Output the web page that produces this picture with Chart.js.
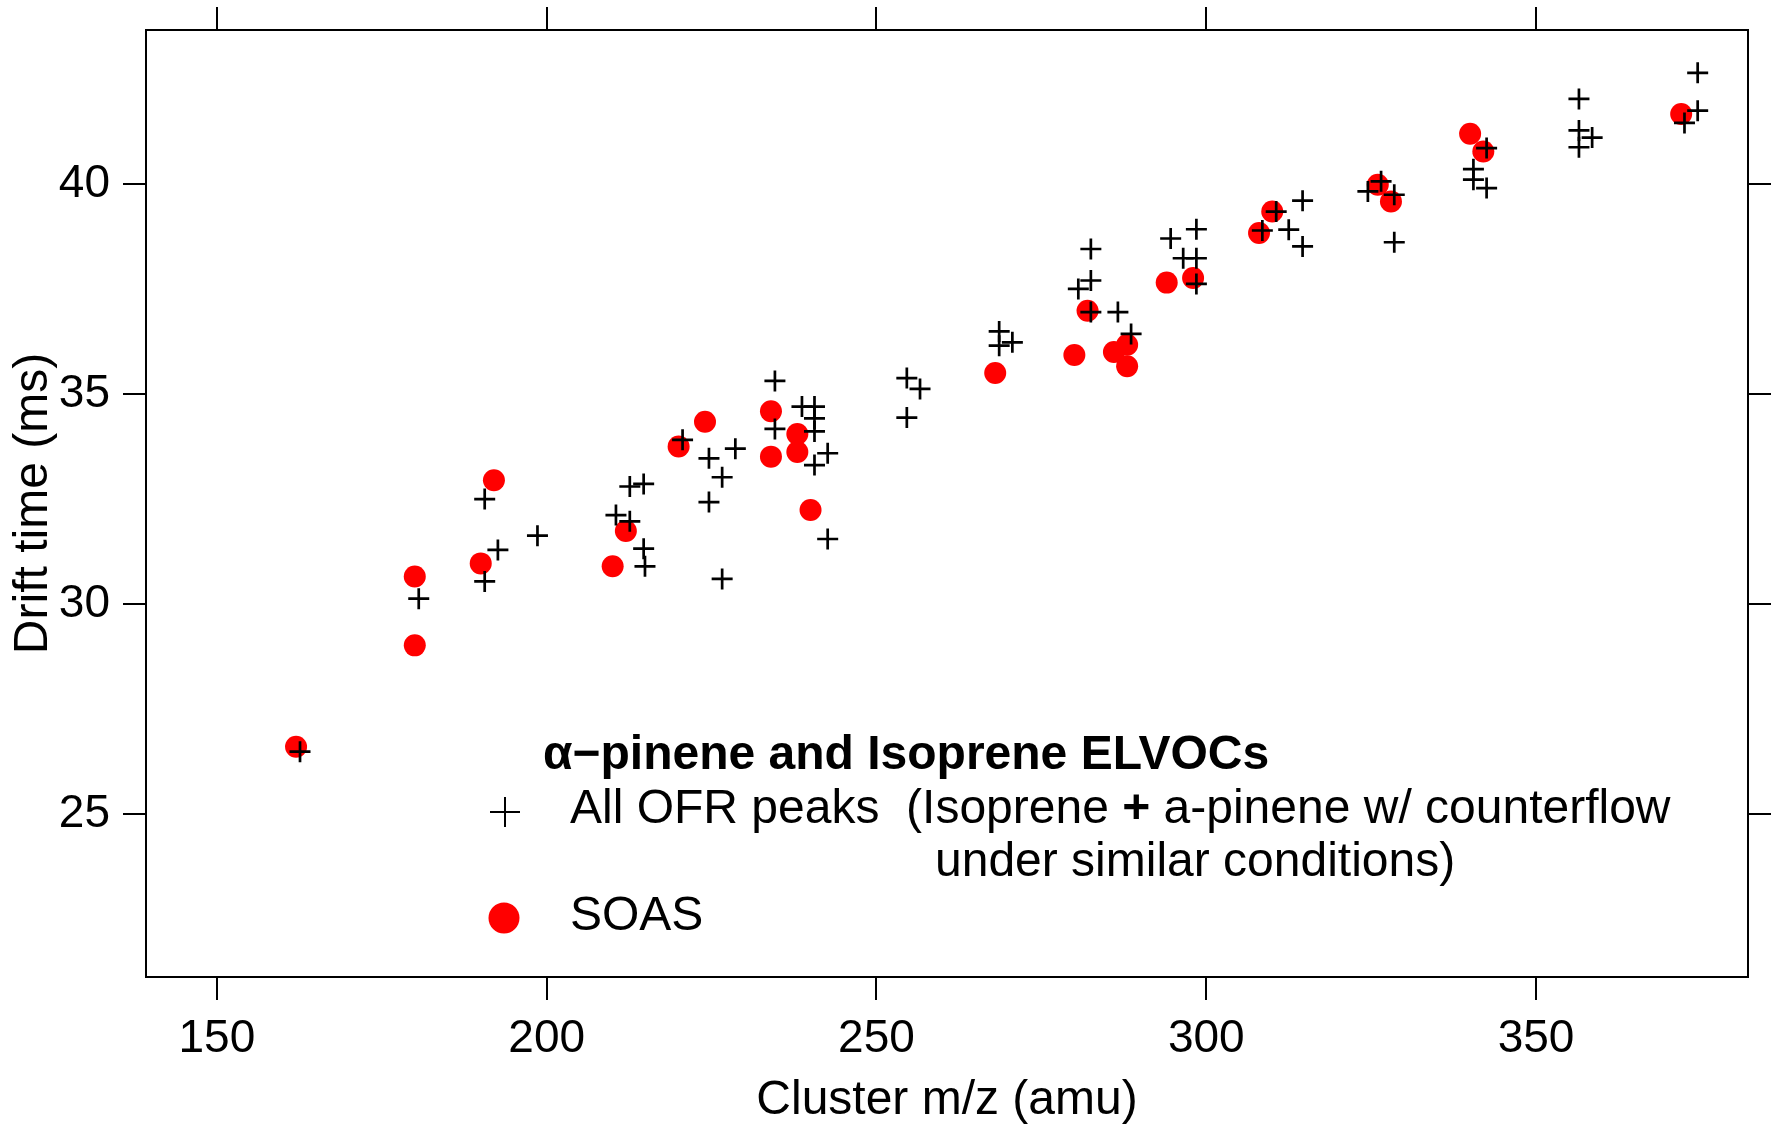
<!DOCTYPE html>
<html>
<head>
<meta charset="utf-8">
<script src="https://cdn.jsdelivr.net/npm/chart.js@4/dist/chart.umd.min.js"></script>
<style>
  html, body { margin: 0; padding: 0; background: #fff; }
  canvas { display: block; }
</style>
</head>
<body>
<canvas id="driftChart" width="1771" height="1126"></canvas>
<script>
// All OFR peaks (crosses)
const ofrMass = [162.6, 180.6, 190.6, 190.6, 192.6, 198.6, 210.5, 212.6, 212.6, 214.7, 214.7, 214.9,
  220.6, 224.6, 224.6, 226.6, 226.6, 228.6, 234.6, 234.6, 238.7, 240.6, 240.6, 240.6, 240.6, 242.6, 242.6,
  254.6, 256.6, 254.6, 268.6, 268.6, 270.6, 280.6, 282.5, 282.5, 282.5, 286.6, 288.6,
  294.6, 296.5, 298.5, 298.5, 298.5, 308.5, 310.6, 312.5, 314.6, 314.6,
  324.5, 326.5, 328.5, 328.5, 340.5, 340.5, 342.5, 342.5, 356.5, 356.5, 356.5, 358.5, 372.5, 374.5, 374.5];
const ofrDrift = [26.49, 30.13, 32.50, 30.54, 31.29, 31.63, 32.12, 31.97, 32.80, 32.86, 31.32, 30.90,
  33.91, 33.47, 32.43, 33.02, 30.60, 33.70, 35.31, 34.17, 34.70, 34.70, 34.42, 34.11, 33.31, 33.59, 31.55,
  35.38, 35.12, 34.44, 36.49, 36.15, 36.23, 37.50, 38.45, 37.70, 36.95, 36.95, 36.43,
  38.70, 38.23, 38.92, 38.23, 37.62, 38.89, 39.34, 38.91, 39.60, 38.51,
  39.82, 40.06, 39.74, 38.61, 40.35, 40.10, 40.85, 39.90, 42.02, 41.27, 40.87, 41.10, 41.45, 42.64, 41.74];

// SOAS (red circles)
const soasMass = [162, 180, 180, 190, 192, 210, 212, 220, 224, 234, 234, 238, 238, 240,
  268, 280, 282, 286, 288, 288, 294, 298, 308, 310, 326, 328, 340, 342, 372];
const soasDrift = [26.61, 30.66, 29.02, 30.97, 32.95, 30.90, 31.74, 33.75, 34.34, 34.59, 33.51, 34.05, 33.62, 32.24,
  35.50, 35.93, 36.98, 36.00, 36.17, 35.66, 37.65, 37.76, 38.83, 39.34, 39.98, 39.58, 41.19, 40.77, 41.66];

const xTicks = [150, 200, 250, 300, 350];
const yTicks = [25, 30, 35, 40];
const xRange = [139.25, 382.13];
const yRange = [21.13, 43.66];

const FONT = '"Liberation Sans", Arial, Helvetica, sans-serif';

function toPoints(xs, ys) {
  return xs.map((x, i) => ({ x: x, y: ys[i] }));
}

function fixedTicks(values) {
  return scale => { scale.ticks = values.map(v => ({ value: v })); };
}

function sideAxis(position, range, ticks, size, tickOpts, title) {
  return {
    type: 'linear',
    position: position,
    min: range[0],
    max: range[1],
    afterBuildTicks: fixedTicks(ticks),
    afterFit: scale => {
      if (position === 'top' || position === 'bottom') scale.height = size;
      else scale.width = size;
      // labels never overflow the box here, so no extra layout padding
      scale.paddingTop = 0;
      scale.paddingBottom = 0;
      scale.paddingLeft = 0;
      scale.paddingRight = 0;
    },
    grid: { drawOnChartArea: false, drawTicks: true, tickLength: 23, color: '#000', lineWidth: 2 },
    border: { display: true, color: '#000', width: 2 },
    ticks: tickOpts,
    title: title || { display: false },
  };
}

const legendPlugin = {
  id: 'elvocLegend',
  afterDraw(chart) {
    const ctx = chart.ctx;
    ctx.save();
    ctx.fillStyle = '#000';
    ctx.textBaseline = 'middle';
    ctx.textAlign = 'left';

    ctx.font = 'bold 48px ' + FONT;
    ctx.fillText('\u03b1\u2212pinene and Isoprene ELVOCs', 543, 756);

    // cross symbol
    ctx.strokeStyle = '#000';
    ctx.lineWidth = 2;
    ctx.beginPath();
    ctx.moveTo(490, 812); ctx.lineTo(520, 812);
    ctx.moveTo(505, 797); ctx.lineTo(505, 827);
    ctx.stroke();

    let x = 570;
    ctx.font = '48px ' + FONT;
    const a = 'All OFR peaks  (Isoprene ';
    ctx.fillText(a, x, 810);
    x += ctx.measureText(a).width;
    ctx.font = 'bold 48px ' + FONT;
    ctx.fillText('+', x, 810);
    x += ctx.measureText('+').width;
    ctx.font = '48px ' + FONT;
    ctx.fillText(' a-pinene w/ counterflow', x, 810);
    ctx.fillText('under similar conditions)', 935, 863);

    // red dot symbol
    ctx.fillStyle = '#ff0000';
    ctx.beginPath();
    ctx.arc(504, 918, 15.5, 0, Math.PI * 2);
    ctx.fill();
    ctx.fillStyle = '#000';
    ctx.fillText('SOAS', 570, 917);
    ctx.restore();
  }
};

const ctx = document.getElementById('driftChart').getContext('2d');
new Chart(ctx, {
  type: 'scatter',
  data: {
    datasets: [
      {
        label: 'All OFR peaks',
        data: toPoints(ofrMass, ofrDrift),
        pointStyle: 'cross',
        pointRadius: 10.5,
        borderColor: '#000',
        borderWidth: 2.7,
        backgroundColor: '#000',
      },
      {
        label: 'SOAS',
        data: toPoints(soasMass, soasDrift),
        pointStyle: 'circle',
        pointRadius: 11,
        borderWidth: 0,
        backgroundColor: '#ff0000',
      },
    ],
  },
  options: {
    responsive: false,
    animation: false,
    devicePixelRatio: 1,
    layout: { padding: 0 },
    plugins: {
      legend: { display: false },
      tooltip: { enabled: false },
    },
    scales: {
      x: sideAxis('bottom', xRange, xTicks, 149,
        { color: '#000', font: { family: FONT, size: 46 }, padding: 12, maxRotation: 0, autoSkip: false },
        { display: true, text: 'Cluster m/z (amu)', color: '#000', font: { family: FONT, size: 48, lineHeight: 1 }, padding: { top: 0, bottom: 1 } }),
      x2: sideAxis('top', xRange, xTicks, 30, { display: false }),
      y: sideAxis('left', yRange, yTicks, 146,
        { color: '#000', font: { family: FONT, size: 46 }, padding: 13, autoSkip: false },
        { display: true, text: 'Drift time (ms)', color: '#000', font: { family: FONT, size: 48, lineHeight: 1 }, padding: { top: 10, bottom: 0 } }),
      y2: sideAxis('right', yRange, yTicks, 23, { display: false }),
    },
  },
  plugins: [legendPlugin],
});
</script>
</body>
</html>
